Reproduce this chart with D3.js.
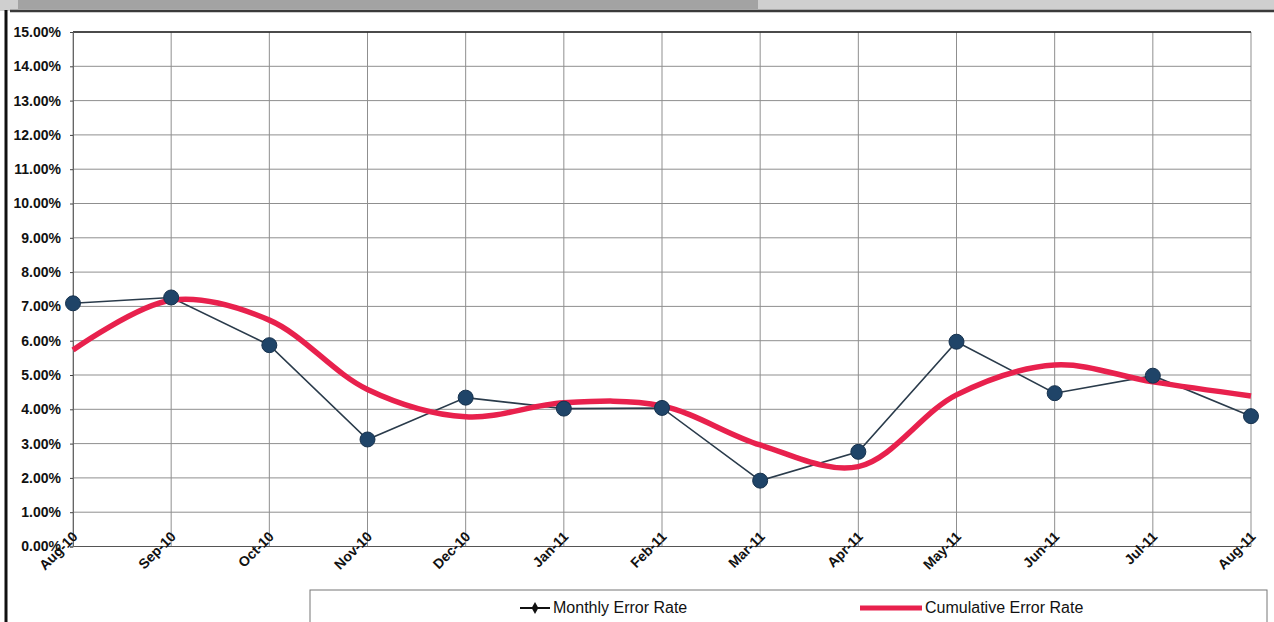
<!DOCTYPE html>
<html><head><meta charset="utf-8">
<script src="https://cdn.jsdelivr.net/npm/d3@7"></script>
<style>html,body{margin:0;padding:0;background:#fff;overflow:hidden}</style>
</head><body>
<svg id="c" width="1274" height="622"></svg>
<script>
const months = ["Aug-10","Sep-10","Oct-10","Nov-10","Dec-10","Jan-11","Feb-11","Mar-11","Apr-11","May-11","Jun-11","Jul-11","Aug-11"];
const monthlyRate = [7.09, 7.26, 5.87, 3.12, 4.34, 4.02, 4.04, 1.92, 2.76, 5.97, 4.47, 4.98, 3.80];
const cumulativeRate = [5.73, 7.18, 6.60, 4.58, 3.78, 4.19, 4.10, 2.96, 2.33, 4.42, 5.29, 4.80, 4.39];
const yTicks = [0,1,2,3,4,5,6,7,8,9,10,11,12,13,14,15];
const seriesNames = ["Monthly Error Rate","Cumulative Error Rate"];

const svg = d3.select("#c");
const W = 1274, H = 622;
const x = d3.scalePoint().domain(months).range([73, 1251]);
const y = d3.scaleLinear().domain([0, 15]).range([546.5, 32]);

// frame remnants
svg.append("rect").attr("x",0).attr("y",0).attr("width",W).attr("height",11).attr("fill","#cfcfcf");
svg.append("rect").attr("x",18).attr("y",0).attr("width",740).attr("height",9).attr("fill","#a3a3a3");
svg.append("line").attr("x1",10).attr("x2",W).attr("y1",11).attr("y2",11).attr("stroke","#3a3a3a").attr("stroke-width",2.5);
svg.append("line").attr("x1",6).attr("x2",6).attr("y1",10).attr("y2",H).attr("stroke","#111").attr("stroke-width",3);

// grid
const g = svg.append("g");
g.selectAll("line.h").data(yTicks).join("line")
  .attr("x1",73).attr("x2",1251).attr("y1",d=>y(d)).attr("y2",d=>y(d))
  .attr("stroke","#8f8f8f").attr("stroke-width",1);
g.selectAll("line.v").data(months).join("line")
  .attr("x1",d=>x(d)).attr("x2",d=>x(d)).attr("y1",y(15)).attr("y2",y(0))
  .attr("stroke","#8f8f8f").attr("stroke-width",1);
svg.append("line").attr("x1",73).attr("x2",1251).attr("y1",y(15)).attr("y2",y(15)).attr("stroke","#222").attr("stroke-width",1.5);
svg.append("line").attr("x1",73).attr("x2",1251).attr("y1",y(0)).attr("y2",y(0)).attr("stroke","#555").attr("stroke-width",1.2);

// y axis labels
const yAxis = d3.axisLeft(y).tickValues(yTicks).tickSize(3).tickFormat(d=>d.toFixed(2)+"%");
const ya = svg.append("g").attr("transform","translate(73,0)").call(yAxis);
ya.select(".domain").attr("stroke","#666");
ya.selectAll(".tick line").attr("stroke","#444");
ya.selectAll("text").attr("x",-12).attr("font-family","Liberation Sans, Arial, sans-serif")
  .attr("font-weight","bold").attr("font-size",14).attr("fill","#111");

// x axis labels
const xAxis = d3.axisBottom(x).tickSize(0);
const xa = svg.append("g").attr("transform",`translate(0,${y(0)})`).call(xAxis);
xa.select(".domain").remove();
xa.selectAll("text").attr("text-anchor","end").attr("x",0).attr("y",0).attr("dy",0)
  .attr("transform","translate(5,-9) rotate(-45)")
  .attr("font-family","Liberation Sans, Arial, sans-serif").attr("font-weight","bold")
  .attr("font-size",14).attr("fill","#111");

// series
const monthlyPts = months.map((m,i)=>[x(m), y(monthlyRate[i])]);
const cumPts = months.map((m,i)=>[x(m), y(cumulativeRate[i])]);
svg.append("path").attr("d", d3.line()(monthlyPts)).attr("fill","none")
  .attr("stroke","#2a3b4b").attr("stroke-width",1.6);
svg.append("path").attr("d", d3.line().curve(d3.curveCatmullRom.alpha(0.5))(cumPts)).attr("fill","none")
  .attr("stroke","#e8214d").attr("stroke-width",5.5).attr("stroke-linejoin","round");
svg.selectAll("circle.m").data(monthlyPts).join("circle")
  .attr("cx",d=>d[0]).attr("cy",d=>d[1]).attr("r",7.5)
  .attr("fill","#1f4468").attr("stroke","#17324e").attr("stroke-width",1);

// legend
const lg = svg.append("g");
lg.append("rect").attr("x",310).attr("y",590).attr("width",957).attr("height",40)
  .attr("fill","#fff").attr("stroke","#777").attr("stroke-width",1);
lg.append("line").attr("x1",520).attr("x2",550).attr("y1",608).attr("y2",608).attr("stroke","#111").attr("stroke-width",2);
lg.append("path").attr("d",d3.symbol(d3.symbolDiamond,40)()).attr("transform","translate(535,608)").attr("fill","#111");
lg.append("text").attr("x",553).attr("y",613).text(seriesNames[0])
  .attr("font-family","Liberation Sans, Arial, sans-serif").attr("font-size",16).attr("fill","#111");
lg.append("line").attr("x1",860).attr("x2",922).attr("y1",608).attr("y2",608).attr("stroke","#e8214d").attr("stroke-width",5);
lg.append("text").attr("x",925).attr("y",613).text(seriesNames[1])
  .attr("font-family","Liberation Sans, Arial, sans-serif").attr("font-size",16).attr("fill","#111");
</script>
</body></html>
